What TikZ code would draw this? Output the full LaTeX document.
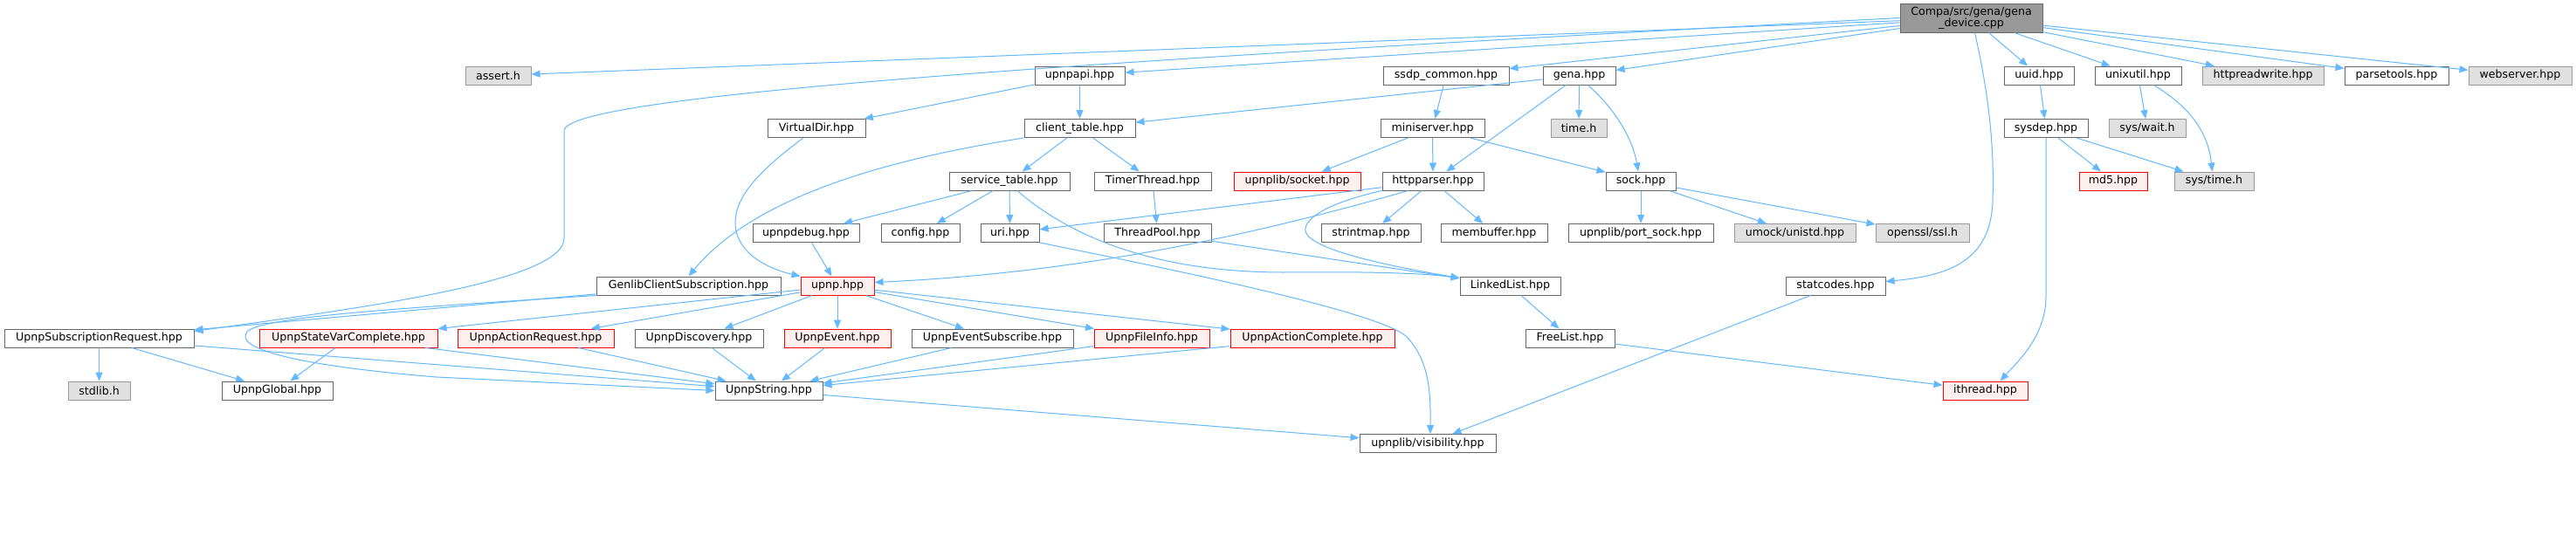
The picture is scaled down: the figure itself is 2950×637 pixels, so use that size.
\documentclass[tikz,border=0pt]{standalone}
\usepackage{fontspec}
\setmainfont{DejaVu Sans}
\usetikzlibrary{arrows.meta,calc}
\definecolor{edgec}{RGB}{99,184,255}
\definecolor{bordc}{RGB}{102,102,102}
\definecolor{redc}{RGB}{255,0,0}
\definecolor{redfill}{RGB}{255,240,240}
\definecolor{grayc}{RGB}{153,153,153}
\definecolor{grayfill}{RGB}{224,224,224}
\definecolor{rootfill}{RGB}{153,153,153}
\begin{document}
\begin{tikzpicture}[x=0.5pt,y=-0.5pt,
  nbox/.style={draw=bordc, fill=white, line width=0.5pt, inner sep=0pt, minimum height=10.5pt, font=\fontsize{6.3}{7.5}\selectfont},
  bw/.style={minimum width=#1*0.5pt},
  redbox/.style={nbox, draw=redc, fill=redfill},
  graybox/.style={nbox, draw=grayc, fill=grayfill},
  rootbox/.style={nbox, fill=rootfill, minimum height=16.5pt, align=center, font=\fontsize{6.3}{6.6}\selectfont},
  conn/.style={draw=edgec, line width=0.5pt, -{Triangle[length=5pt,width=4pt]}}]
\useasboundingbox (0,0) rectangle (2950,637);
\fill[white] (0,0) rectangle (2950,637);
% row 0
\node[rootbox, bw=163] (root) at (2257.5,20.5) {Compa/src/gena/gena\\\_device.cpp};
% row 1
\node[graybox, bw=75] (assert) at (570.5,86.5) {assert.h};
\node[nbox, bw=103] (upnpapi) at (1236.5,86.5) {upnpapi.hpp};
\node[nbox, bw=144] (ssdp) at (1656,86.5) {ssdp\_common.hpp};
\node[nbox, bw=83] (gena) at (1808.5,86.5) {gena.hpp};
\node[nbox, bw=80] (uuid) at (2335,86.5) {uuid.hpp};
\node[nbox, bw=99] (unixutil) at (2448.5,86.5) {unixutil.hpp};
\node[graybox, bw=139] (httprw) at (2591.5,86.5) {httpreadwrite.hpp};
\node[nbox, bw=119] (parsetools) at (2744.5,86.5) {parsetools.hpp};
\node[graybox, bw=118] (webserver) at (2886,86.5) {webserver.hpp};
% row 2
\node[nbox, bw=112] (vdir) at (935,147) {VirtualDir.hpp};
\node[nbox, bw=127] (ctable) at (1236.5,147) {client\_table.hpp};
\node[nbox, bw=119] (minis) at (1640.5,147) {miniserver.hpp};
\node[graybox, bw=64] (timeh) at (1808,147) {time.h};
\node[nbox, bw=96] (sysdep) at (2343,147) {sysdep.hpp};
\node[graybox, bw=88] (syswait) at (2459,147) {sys/wait.h};
% row 3
\node[nbox, bw=138] (stable) at (1156,207.5) {service\_table.hpp};
\node[nbox, bw=134] (timer) at (1320,207.5) {TimerThread.hpp};
\node[redbox, bw=145] (socket) at (1485.5,207.5) {upnplib/socket.hpp};
\node[nbox, bw=116] (httpp) at (1641,207.5) {httpparser.hpp};
\node[nbox, bw=80] (sock) at (1879,207.5) {sock.hpp};
\node[redbox, bw=78] (md5) at (2420,207.5) {md5.hpp};
\node[graybox, bw=91] (systime) at (2535.5,207.5) {sys/time.h};
% row 4
\node[nbox, bw=122] (updebug) at (923,267) {upnpdebug.hpp};
\node[nbox, bw=90] (config) at (1054,267) {config.hpp};
\node[nbox, bw=67] (uri) at (1156.5,267) {uri.hpp};
\node[nbox, bw=123] (tpool) at (1325.5,267) {ThreadPool.hpp};
\node[nbox, bw=114] (strint) at (1570,267) {strintmap.hpp};
\node[nbox, bw=122] (membuf) at (1711,267) {membuffer.hpp};
\node[nbox, bw=166] (psock) at (1879,267) {upnplib/port\_sock.hpp};
\node[graybox, bw=139] (umock) at (2055.5,267) {umock/unistd.hpp};
\node[graybox, bw=107] (openssl) at (2201.5,267) {openssl/ssl.h};
% row 5
\node[nbox, bw=211] (genlib) at (788.5,327.5) {GenlibClientSubscription.hpp};
\node[redbox, bw=84] (upnp) at (959,327.5) {upnp.hpp};
\node[nbox, bw=115] (llist) at (1729.5,327.5) {LinkedList.hpp};
\node[nbox, bw=114] (statc) at (2102,327.5) {statcodes.hpp};
% row 6
\node[nbox, bw=217] (usr) at (113.5,387.5) {UpnpSubscriptionRequest.hpp};
\node[redbox, bw=204] (svc) at (399,387.5) {UpnpStateVarComplete.hpp};
\node[redbox, bw=179] (areq) at (613.5,387.5) {UpnpActionRequest.hpp};
\node[nbox, bw=147] (disc) at (800.5,387.5) {UpnpDiscovery.hpp};
\node[redbox, bw=122] (uevent) at (959,387.5) {UpnpEvent.hpp};
\node[nbox, bw=185] (esub) at (1136.5,387.5) {UpnpEventSubscribe.hpp};
\node[redbox, bw=132] (finfo) at (1319,387.5) {UpnpFileInfo.hpp};
\node[redbox, bw=188] (acomp) at (1503,387.5) {UpnpActionComplete.hpp};
\node[nbox, bw=102] (flist) at (1798,387.5) {FreeList.hpp};
% row 7
\node[graybox, bw=71] (stdlib) at (113.5,447.5) {stdlib.h};
\node[nbox, bw=127] (uglobal) at (317.5,447.5) {UpnpGlobal.hpp};
\node[nbox, bw=123] (ustring) at (880.5,447.5) {UpnpString.hpp};
\node[redbox, bw=97] (ithread) at (2273.5,447.5) {ithread.hpp};
% row 8
\node[nbox, bw=156] (vis) at (1635,508) {upnplib/visibility.hpp};

% edges from root
\draw[conn] (root) -- (assert);
\draw[conn] (root) -- (upnpapi);
\draw[conn] (root) -- (ssdp);
\draw[conn] (root) -- (gena);
\draw[conn] (root) -- (uuid);
\draw[conn] (root) -- (unixutil);
\draw[conn] (root) -- (httprw);
\draw[conn] (root) -- (parsetools);
\draw[conn] (root) -- (webserver);
\draw[conn] (root.west) .. controls (1200,72) and (646,110) .. (646,150) -- (646,273) .. controls (646,322) and (420,352) .. ($(usr.east)+(0,-8)$);
\draw[conn] ($(root.south)+(4,0)$) .. controls (2278,110) and (2284,170) .. (2282,230) .. controls (2280,300) and (2230,316) .. ($(statc.east)+(0,-5)$);

% other edges
\draw[conn] (upnpapi) -- (vdir);
\draw[conn] (upnpapi) -- (ctable);
\draw[conn] (gena) -- (ctable);
\draw[conn] (gena) -- (timeh);
\draw[conn] (gena) -- (httpp);
\draw[conn] ($(gena.south)+(10,0)$) .. controls (1850,125) and (1870,160) .. ($(sock.north)+(-3,0)$);
\draw[conn] (ssdp) -- (minis);
\draw[conn] (minis) -- (socket);
\draw[conn] (minis) -- (httpp);
\draw[conn] (minis) -- (sock);
\draw[conn] (ctable) -- (stable);
\draw[conn] (ctable) -- (timer);
\draw[conn] (ctable.south west) .. controls (1000,185) and (860,230) .. (genlib.north);
\draw[conn] ($(vdir.south)+(-15,0)$) .. controls (870,195) and (842,225) .. (842,255) .. controls (842,290) and (880,308) .. (upnp.north west);
\draw[conn] (stable) -- (updebug);
\draw[conn] (stable) -- (config);
\draw[conn] (stable) -- (uri);
\draw[conn] ($(stable.south)+(9,0)$) .. controls (1230,275) and (1330,312) .. (1470,312) .. controls (1570,311) and (1630,313) .. ($(llist.west)+(0,-9)$);
\draw[conn] (timer) -- (tpool);
\draw[conn] (tpool) -- (llist);
\draw[conn] (httpp) -- (uri);
\draw[conn] (httpp) -- (strint);
\draw[conn] (httpp) -- (membuf);
\draw[conn] ($(httpp.south west)+(30,0)$) .. controls (1450,265) and (1250,312) .. ($(upnp.east)+(0,-4)$);
\draw[conn] (httpp.south west) .. controls (1530,230) and (1492,248) .. (1495,265) .. controls (1500,285) and (1580,303) .. ($(llist.west)+(0,-9)$);
\draw[conn] (uri.south east) .. controls (1400,320) and (1580,360) .. (1610,385) .. controls (1640,415) and (1638,460) .. ($(vis.north)+(3,0)$);
\draw[conn] (sock) -- (psock);
\draw[conn] (sock) -- (umock);
\draw[conn] (sock) -- (openssl);
\draw[conn] (llist) -- (flist);
\draw[conn] (flist) -- (ithread);
\draw[conn] (statc) -- (vis);
\draw[conn] (ustring) -- (vis);
\draw[conn] (uuid) -- (sysdep);
\draw[conn] (unixutil) -- (syswait);
\draw[conn] ($(unixutil.south)+(18,0)$) .. controls (2500,118) and (2528,145) .. ($(systime.north)+(-2,0)$);
\draw[conn] (sysdep) -- (md5);
\draw[conn] (sysdep) -- (systime);
\draw[conn] (sysdep.south) -- (2343,340) .. controls (2343,385) and (2310,415) .. ($(ithread.north)+(17,0)$);
\draw[conn] (updebug) -- (upnp);
\draw[conn] (upnp) -- (svc);
\draw[conn] (upnp) -- (areq);
\draw[conn] (upnp) -- (disc);
\draw[conn] (upnp) -- (uevent);
\draw[conn] (upnp) -- (esub);
\draw[conn] (upnp) -- (finfo);
\draw[conn] (upnp) -- (acomp);
\draw[conn] (genlib) -- (usr);
\draw[conn] (genlib.south west) .. controls (480,352) and (300,362) .. (283,380) .. controls (268,398) and (330,418) .. (500,432) -- (ustring.west);
\draw[conn] (usr) -- (stdlib);
\draw[conn] (usr) -- (uglobal);
\draw[conn] (usr) -- (ustring);
\draw[conn] (svc) -- (uglobal);
\draw[conn] (svc) -- (ustring);
\draw[conn] (areq) -- (ustring);
\draw[conn] (disc) -- (ustring);
\draw[conn] (uevent) -- (ustring);
\draw[conn] (esub) -- (ustring);
\draw[conn] (finfo) -- (ustring);
\draw[conn] (acomp) -- (ustring);
\end{tikzpicture}
\end{document}
